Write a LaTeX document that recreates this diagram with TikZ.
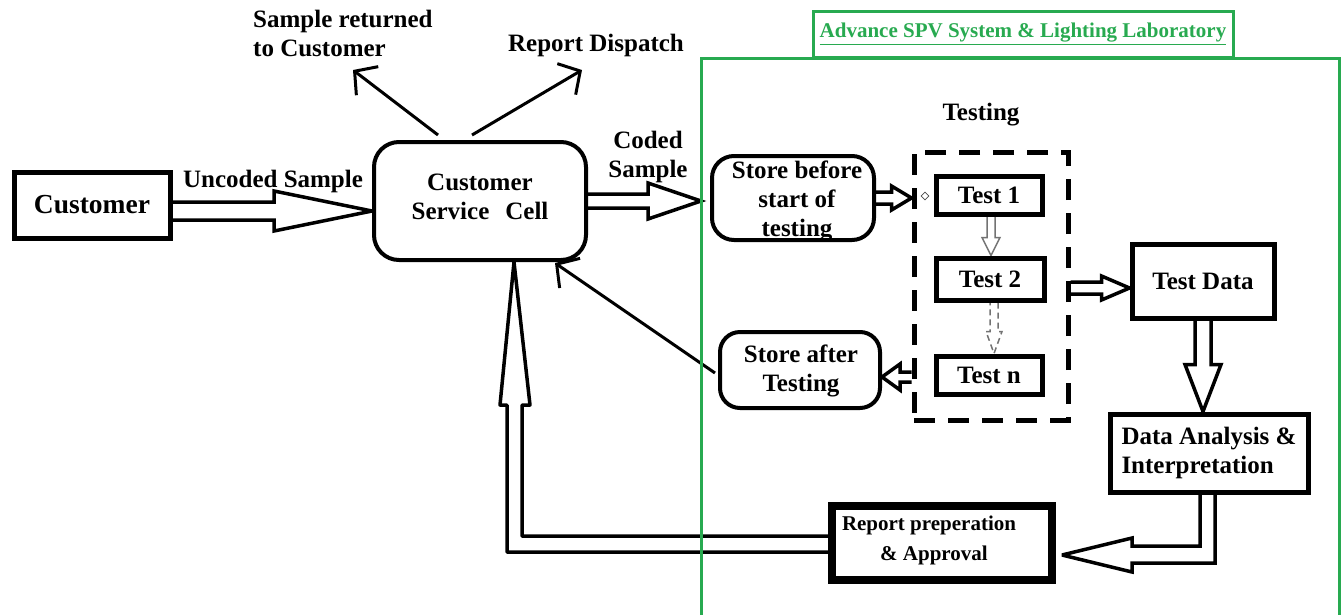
\documentclass[tikz,border=0pt]{standalone}
\usepackage{fontspec}
\setmainfont{Liberation Serif}
\usetikzlibrary{calc,arrows.meta,shapes.geometric}
\definecolor{labgreen}{RGB}{40,170,80}
\pgfdeclarelayer{bg}
\pgfdeclarelayer{arrowlayer}
\pgfsetlayers{bg,arrowlayer,main}
% hollow block arrows (pixel-like units, y downward in pixel terms)
\newcommand\rarrow[6][]{\draw[hollowarrow,#1] let \p1=(#2),\p2=(#3) in
 (\x1,\y1+#4pt) -- (\x2-#6pt,\y1+#4pt) -- (\x2-#6pt,\y1+#5pt) -- (\x2,\y1)
 -- (\x2-#6pt,\y1-#5pt) -- (\x2-#6pt,\y1-#4pt) -- (\x1,\y1-#4pt);}
\newcommand\larrow[6][]{\draw[hollowarrow,#1] let \p1=(#2),\p2=(#3) in
 (\x1,\y1+#4pt) -- (\x2+#6pt,\y1+#4pt) -- (\x2+#6pt,\y1+#5pt) -- (\x2,\y1)
 -- (\x2+#6pt,\y1-#5pt) -- (\x2+#6pt,\y1-#4pt) -- (\x1,\y1-#4pt);}
\newcommand\darrow[6][]{\draw[hollowarrow,#1] let \p1=(#2),\p2=(#3) in
 (\x1+#4pt,\y1) -- (\x1+#4pt,\y2+#6pt) -- (\x1+#5pt,\y2+#6pt) -- (\x1,\y2)
 -- (\x1-#5pt,\y2+#6pt) -- (\x1-#4pt,\y2+#6pt) -- (\x1-#4pt,\y1);}
\begin{document}
\begin{tikzpicture}[x=1pt,y=-1pt,
 every node/.style={font=\bfseries\fontsize{25}{29}\selectfont, inner sep=0pt, align=center},
 sqbox/.style={draw, line width=5pt, fill=white, rectangle},
 rbox/.style={draw, line width=4pt, rounded corners=22pt, fill=white, rectangle},
 hollowarrow/.style={draw=black, fill=white, line width=3.5pt, miter limit=4},
 thinhollow/.style={draw=black!55, fill=white, line width=1.5pt, miter limit=4},
 thinarrow/.style={line width=3pt, -{Straight Barb[length=16pt,width=36pt,line width=3pt]}},
 greenline/.style={draw=labgreen, line width=3pt}]
\useasboundingbox (0,0) rectangle (1344,614);
\begin{pgfonlayer}{bg}
\fill[white] (0,0) rectangle (1344,614);
\end{pgfonlayer}

% ---- nodes ----
\node[sqbox, minimum width=156pt, minimum height=66pt,
      font=\bfseries\fontsize{27.5}{30}\selectfont] (cust) at (92,205) {Customer};
\node[rbox, rounded corners=25pt, minimum width=212pt, minimum height=118pt] (csc) at (480,201) {};
\node (csctext) at (480,197) {Customer\\Service\hspace{16pt}Cell};

\node[rbox, minimum width=162pt, minimum height=84pt] (stb) at (793,198) {};
\node (stbtext) at (797,201) {Store before\\start of\\testing};

\node[rbox, rounded corners=20pt, minimum width=160pt, minimum height=76pt] (sta) at (800,370) {};
\node (statext) at (801,371) {Store after\\Testing};

\node[draw, line width=5pt, dash pattern=on 21pt off 13pt, rectangle,
      minimum width=154pt, minimum height=268pt] (tbox) at (991,286) {};
\node (testing) at (981,115) {Testing};

\node[sqbox, minimum width=106pt, minimum height=38pt] (t1) at (989,195) {Test 1};
\node[sqbox, minimum width=108pt, minimum height=42pt] (t2) at (990,279) {Test 2};
\node[sqbox, minimum width=106pt, minimum height=38pt] (tn) at (989,375) {Test n};
\node[diamond, draw=black!70, line width=0.8pt, minimum width=8pt, minimum height=8pt] (dmd) at (925,196) {};

\node[sqbox, minimum width=142pt, minimum height=74pt] (td) at (1203,281) {Test Data};
\node[sqbox, minimum width=198pt, minimum height=78pt, align=left] (da) at (1209,453)
     {Data Analysis \&\\Interpretation};
\node[sqbox, line width=8pt, minimum width=220pt, minimum height=74pt] (rep) at (942,543) {};
\node[font=\bfseries\fontsize{21}{30}\selectfont] (reptext) at (929,540) {Report preperation\\\hspace{10pt}\& Approval};

% labels
\node (uncoded) at (273,181) {Uncoded Sample};
\node (coded) at (648,157) {Coded\\Sample};
\node[anchor=west, align=left] (returned) at (253,33) {Sample returned\\to Customer};
\node (dispatch) at (596,45) {Report Dispatch};

% laboratory frame
\draw[greenline] (701,58) rectangle (1339,640);
\node[draw=labgreen, line width=3pt, fill=white, minimum width=420pt, minimum height=46pt,
      text=labgreen, font=\bfseries\fontsize{21}{22}\selectfont] (lab) at (1023,34)
      {\underline{Advance SPV System \& Lighting Laboratory}};

% free ends
\coordinate (retEnd) at (353,70);
\coordinate (dispEnd) at (582,70);
\coordinate (tipA) at ($(csc.south)+(34,0)$);

% ---- connectors ----
\begin{pgfonlayer}{arrowlayer}
\rarrow{$(cust.east)+(0,6)$}{csc.west}{9}{20}{98}
\rarrow{csc.east}{$(stb.west)+(-9,0)$}{7}{18}{53}
\rarrow{$(stb.east)+(0,0)$}{tbox.west}{6}{12}{20}
\rarrow{$(tbox.east)+(0,2)$}{td.west}{6}{12}{28}
\larrow{$(tbox.west |- tn.west)+(0,2)$}{sta.east}{5}{13}{18}
\darrow{td.south}{da.north}{8}{18}{47}
\darrow[thinhollow]{$(t1.south)+(2,0)$}{t2.north}{4}{9}{18}
\darrow[thinhollow, dash pattern=on 6pt off 4pt]{$(t2.south)+(4,0)$}{tn.north}{4}{8}{22}

% Data analysis -> Report (elbow)
\draw[hollowarrow] let \p1=(da.south), \p2=(rep.east) in
 (\x1+6pt,\y1) -- (\x1+6pt,\y2-20pt) -- (\x2+76pt,\y2-20pt) -- (\x2+76pt,\y2-29pt)
 -- (\x2+6pt,\y2-12pt) -- (\x2+76pt,\y2+5pt) -- (\x2+76pt,\y2-3pt)
 -- (\x1-9pt,\y2-3pt) -- (\x1-9pt,\y1);
% Report -> Customer Service Cell (elbow)
\draw[hollowarrow, line join=round] let \p1=(rep.west), \p2=(tipA) in
 (\x1,\y1-9pt) -- (\x2-7pt,\y1-9pt) -- (\x2-7pt,\y2-143pt) -- (\x2-14pt,\y2-143pt)
 -- (\x2,\y2) -- (\x2+16pt,\y2-143pt) -- (\x2+8pt,\y2-143pt)
 -- (\x2+8pt,\y1+7pt) -- (\x1,\y1+7pt);

\draw[thinarrow] ($(csc.north)+(-42,-5)$) -- (retEnd);
\draw[thinarrow] ($(csc.north)+(-8,-5)$) -- (dispEnd);
\draw[thinarrow] ($(sta.west)+(-3,3)$) -- ($(csc.south east)+(-33,1)$);
\end{pgfonlayer}
\end{tikzpicture}
\end{document}
